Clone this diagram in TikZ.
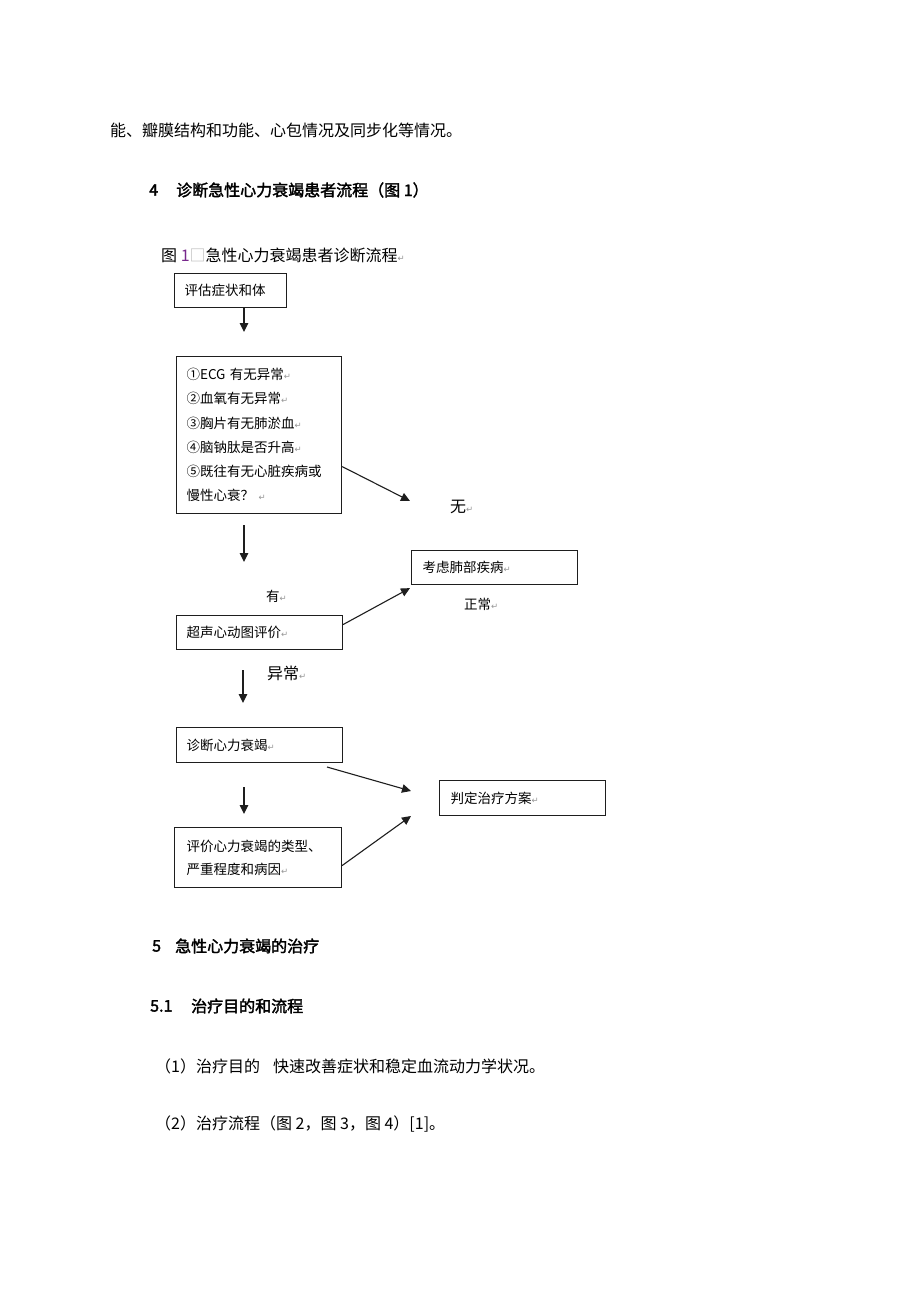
\documentclass[tikz,border=0pt]{standalone}
\usepackage{fontspec}
\setmainfont{Noto Sans CJK SC}[AutoFakeBold=2]
\newfontfamily\markfont{DejaVu Sans}
\usetikzlibrary{arrows.meta}
\definecolor{markgray}{RGB}{150,150,150}
\definecolor{numpurple}{RGB}{120,40,140}
\definecolor{edge}{RGB}{30,30,30}
\newcommand{\retmark}{{\markfont\fontsize{8.5}{8.5}\selectfont\textcolor{markgray}{↵}}}
\tikzset{
	box/.style={draw=edge, line width=1.1pt, anchor=north west, align=left, inner xsep=10pt, font=\fontsize{13.5}{24.2}\selectfont},
	arr/.style={draw=edge, line width=1.1pt, -{Triangle[length=9pt,width=8.5pt]}},
	body/.style={anchor=west, inner sep=0pt, font=\fontsize{16}{16}\selectfont},
	head/.style={body, font=\fontsize{16}{16}\selectfont\bfseries},
	lbl/.style={anchor=west, inner sep=0pt, font=\fontsize{13.5}{13.5}\selectfont},
}

\begin{document}
\begin{tikzpicture}[x=1pt,y=-1pt]
		\fill[white] (0,0) rectangle (920,1302);
		\useasboundingbox (0,0) rectangle (920,1302);
		%\draw (0,0) grid (920,1302);
		\draw (110,130) node (p0) [body] {能、瓣膜结构和功能、心包情况及同步化等情况。};
		\draw (149,190) node (h4n) [head] {4};
		\draw (176,190) node (h4) [head] {诊断急性心力衰竭患者流程（图 1）};
		\draw (161,255) node (cap) [body] {图 \textcolor{numpurple}{1}\textcolor{markgray!70}{□}急性心力衰竭患者诊断流程\retmark};
		%
		\draw (174,273) node (sym) [box, text width=92pt, minimum height=34pt] {评估症状和体};
		\draw (176,356) node (chk) [box, text width=145pt, minimum height=157pt] {①ECG 有无异常\retmark\\ ②血氧有无异常\retmark\\ ③胸片有无肺淤血\retmark\\ ④脑钠肽是否升高\retmark\\ ⑤既往有无心脏疾病或\\ 慢性心衰？ \retmark};
		\draw (176,615) node (echo) [box, text width=146pt, minimum height=34pt] {超声心动图评价\retmark};
		\draw (411,550) node (lung) [box, inner xsep=11pt, text width=144pt, minimum height=34pt] {考虑肺部疾病\retmark};
		\draw (176,727) node (dx) [box, text width=146pt, minimum height=35pt] {诊断心力衰竭\retmark};
		\draw (439,780) node (plan) [box, inner xsep=11pt, text width=144pt, minimum height=35pt] {判定治疗方案\retmark};
		\draw (174,827) node (grade) [box, inner xsep=12pt, text width=143pt, minimum height=60pt, font=\fontsize{13.5}{23}\selectfont] {评价心力衰竭的类型、\\ 严重程度和病因\retmark};
		%
		\draw (450,507) node (no) [body] {无\retmark};
		\draw (266,596) node (yes) [lbl] {有\retmark};
		\draw (464,604) node (ok) [lbl] {正常\retmark};
		\draw (267,673) node (bad) [body] {异常\retmark};
		%
		\coordinate (d1) at (244,332);
		\coordinate (d2s) at (244,525);
		\coordinate (d2) at (244,562);
		\coordinate (d3s) at (243,670);
		\coordinate (d3) at (243,703);
		\coordinate (d4s) at (244,787);
		\coordinate (d4) at (244,814);
		\coordinate (r1) at (410,501);
		\coordinate (r3s) at (327,767);
		\coordinate (r3) at (411,791);
		\coordinate (r4) at (411,816);
		\draw [arr] (sym.south -| d1) -- (d1);
		\draw [arr] (d2s) -- (d2);
		\draw [arr] (d3s) -- (d3);
		\draw [arr] (d4s) -- (d4);
		\draw [arr] ([yshift=-31.5pt]chk.east) -- (r1);
		\draw [arr] ([yshift=8pt]echo.east) -- ([shift={(-1pt,-3pt)}]lung.south west);
		\draw [arr] (r3s) -- (r3);
		\draw [arr] ([yshift=-8pt]grade.east) -- (r4);
		%
		\draw (152,946) node (h5n) [head] {5};
		\draw (175,946) node (h5) [head] {急性心力衰竭的治疗};
		\draw (150,1006) node (h51n) [head] {5.1};
		\draw (191,1006) node (h51) [head] {治疗目的和流程};
		\draw (155,1066) node (t1) [body] {（1）治疗目的};
		\draw (273,1066) node (t1b) [body] {快速改善症状和稳定血流动力学状况。};
		\draw (155,1124) node (t2) [body] {（2）治疗流程（图 2，图 3，图 4）[1]。};
	\end{tikzpicture}
\end{document}
